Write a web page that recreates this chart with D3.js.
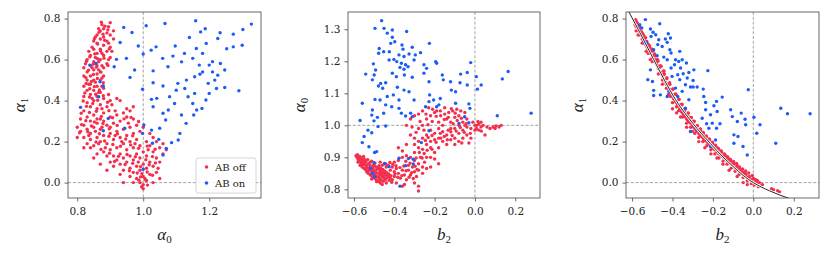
<!DOCTYPE html>
<html>
<head>
<meta charset="utf-8">
<script src="https://cdn.jsdelivr.net/npm/d3@7"></script>
<style>
body { margin: 0; background: #fff; }
svg { display: block; }
.tick text { font-family: "DejaVu Serif", serif; font-size: 10.5px; fill: #222; }
.lab { font-family: "Liberation Serif", "DejaVu Serif", serif; fill: #222; }
</style>
</head>
<body>
<svg id="fig" width="831" height="258"></svg>
<script>
// panel 1: alpha0 (x) vs alpha1 (y)
var offP1 = [[0.9,0.78],[0.88,0.75],[0.87,0.74],[0.89,0.73],[0.86,0.72],[0.88,0.71],[0.9,0.72],[0.87,0.7],[0.85,0.69],[0.89,0.69],[0.91,0.7],[0.86,0.68],[0.88,0.67],[0.9,0.66],[0.87,0.65],[0.85,0.65],[0.89,0.64],[0.86,0.63],[0.88,0.62],[0.84,0.62],[0.9,0.61],[0.87,0.6],[0.83,0.6],[0.85,0.59],[0.89,0.58],[0.86,0.57],[0.84,0.57],[0.88,0.56],[0.82,0.56],[0.85,0.55],[0.87,0.54],[0.83,0.54],[0.86,0.53],[0.84,0.52],[0.82,0.52],[0.88,0.52],[0.85,0.5],[0.83,0.5],[0.87,0.5],[0.84,0.48],[0.86,0.47],[0.82,0.47],[0.88,0.46],[0.85,0.45],[0.83,0.45],[0.87,0.44],[0.84,0.43],[0.86,0.42],[0.82,0.42],[0.88,0.41],[0.85,0.4],[0.9,0.4],[0.83,0.39],[0.87,0.38],[0.84,0.37],[0.89,0.37],[0.86,0.36],[0.82,0.35],[0.88,0.34],[0.85,0.33],[0.83,0.32],[0.87,0.31],[0.81,0.31],[0.84,0.3],[0.86,0.29],[0.82,0.28],[0.89,0.28],[0.85,0.27],[0.8,0.27],[0.83,0.26],[0.87,0.26],[0.9,0.27],
[0.91,0.74],[0.895,0.76],[0.875,0.77],[0.865,0.75],[0.855,0.71],[0.895,0.68],[0.905,0.64],[0.845,0.66],[0.835,0.64],[0.875,0.63],[0.855,0.61],[0.895,0.6],[0.865,0.59],[0.875,0.57],[0.845,0.56],[0.825,0.58],[0.865,0.55],[0.875,0.51],[0.855,0.49],[0.835,0.48],[0.865,0.44],[0.875,0.47],[0.845,0.41],[0.895,0.43],[0.905,0.38],[0.875,0.36],[0.915,0.35],[0.92,0.41],[0.93,0.4],
[0.92,0.33],[0.94,0.34],[0.96,0.35],[0.95,0.32],[0.93,0.3],[0.91,0.29],[0.97,0.31],[0.98,0.28],[0.96,0.27],[0.94,0.26],[0.92,0.25],[0.9,0.24],[0.88,0.23],[0.86,0.22],[0.84,0.21],[0.82,0.22],[0.8,0.22],[0.81,0.25],[0.83,0.19],[0.85,0.18],[0.87,0.2],[0.89,0.19],[0.91,0.21],[0.93,0.22],[0.95,0.23],[0.97,0.24],[0.99,0.25],[1.0,0.27],[0.98,0.21],[0.96,0.2],[0.94,0.19],[0.92,0.17],[0.9,0.16],[0.88,0.15],[0.86,0.14],[0.84,0.17],[0.95,0.16],[0.97,0.17],[0.99,0.18],[1.01,0.2],[1.03,0.22],[1.02,0.18],[1.0,0.15],[0.98,0.14],[0.96,0.13],[0.94,0.12],[0.92,0.11],[0.9,0.1],[0.89,0.13],[0.91,0.08],[0.93,0.09],[0.95,0.1],[0.97,0.11],[0.99,0.12],[1.01,0.13],[1.03,0.15],[1.05,0.17],[1.04,0.12],[1.02,0.1],[1.0,0.09],[0.98,0.08],[0.96,0.07],[0.94,0.06],[0.97,0.05],[0.99,0.06],[1.01,0.07],[1.03,0.08],[1.05,0.1],[1.06,0.14],[1.04,0.05],[1.02,0.04],[1.0,0.03],[0.98,0.02],[0.96,0.03],[0.99,0.0],[1.0,-0.01],[1.01,0.01],[1.0,-0.03],[0.995,-0.02],[1.005,0.02],[0.94,0.0],[0.97,0.0],[1.03,0.0],[1.05,0.02],[0.93,0.04],[0.95,0.36],[0.97,0.37],[0.9,0.32],[0.88,0.3],[0.86,0.31],[0.84,0.24],[0.82,0.17],[0.85,0.12],[0.87,0.09],[0.89,0.06],[0.93,0.14],[0.91,0.13],[1.02,0.24],[1.04,0.2],[1.06,0.19],[1.07,0.16],[0.975,0.19],[0.955,0.29],[0.935,0.2],[0.915,0.23],[0.875,0.27],[0.855,0.25],[0.835,0.23],[0.865,0.19],[0.885,0.17],[1.015,0.16],[0.985,0.1],[1.045,0.07],
[0.873,0.782],[0.884,0.763],[0.866,0.733],[0.893,0.745],[0.878,0.724],[0.852,0.702],[0.883,0.694],[0.862,0.676],[0.897,0.652],[0.871,0.642],[0.853,0.628],[0.881,0.607],[0.838,0.613],[0.862,0.604],[0.828,0.592],[0.848,0.577],[0.893,0.571],[0.858,0.562],[0.834,0.548],[0.872,0.539],[0.849,0.527],[0.826,0.512],[0.861,0.508],[0.843,0.493],[0.879,0.487],[0.827,0.483],[0.852,0.468],[0.838,0.458],[0.867,0.452],[0.823,0.437],[0.856,0.431],[0.879,0.424],[0.837,0.417],[0.862,0.402],[0.818,0.398],[0.847,0.386],[0.892,0.392],[0.828,0.372],[0.858,0.348],[0.837,0.342],[0.812,0.338],[0.873,0.323],[0.896,0.351],[0.907,0.316],[0.826,0.302],[0.852,0.296],[0.878,0.288],[0.813,0.283],[0.843,0.276],[0.897,0.263],[0.921,0.279],[0.942,0.311],[0.963,0.318],[0.986,0.298],[0.807,0.243],[0.832,0.248],[0.867,0.238],[0.896,0.226],[0.922,0.238],[0.947,0.213],[0.968,0.228],[0.883,0.203],[0.857,0.198],[0.908,0.186],[0.931,0.177],[0.962,0.184],[0.986,0.167],[1.012,0.178],[1.036,0.163],[0.872,0.162],[0.898,0.143],[0.925,0.128],[0.951,0.137],[0.976,0.126],[1.008,0.112],[1.028,0.127],[0.913,0.103],[0.945,0.088],[0.968,0.094],[0.992,0.078],[1.018,0.087],[1.037,0.096],[0.958,0.058],[0.982,0.047],[1.012,0.052],[1.028,0.036],[0.992,0.028],[1.008,0.012],[0.987,0.012],[1.013,-0.012],[0.996,0.043]];
var onP1 = [[0.941,0.757],[0.966,0.732],[1.009,0.765],[1.066,0.776],[1.159,0.789],[1.328,0.773],[0.93,0.683],[0.985,0.666],[1.039,0.662],[1.097,0.666],[1.14,0.708],[1.174,0.735],[1.188,0.75],[1.233,0.731],[1.273,0.724],[1.302,0.747],[1.3,0.67],[1.273,0.662],[1.253,0.653],[0.919,0.601],[0.949,0.606],[1.0,0.627],[1.024,0.646],[1.059,0.606],[1.09,0.617],[1.125,0.63],[1.15,0.606],[1.18,0.63],[1.2,0.573],[1.234,0.581],[1.226,0.703],[1.191,0.679],[1.161,0.654],[1.116,0.589],[1.075,0.565],[1.03,0.545],[0.974,0.549],[0.96,0.513],[0.912,0.565],[0.857,0.581],[0.838,0.573],[0.869,0.492],[0.879,0.471],[0.865,0.419],[0.81,0.367],[0.894,0.313],[0.879,0.253],[0.998,0.455],[1.03,0.487],[1.06,0.471],[1.08,0.419],[1.105,0.484],[1.131,0.5],[1.156,0.435],[1.172,0.529],[1.197,0.484],[1.217,0.5],[1.222,0.459],[1.247,0.464],[1.29,0.448],[1.247,0.549],[1.21,0.54],[1.226,0.524],[1.19,0.403],[1.178,0.362],[1.153,0.33],[1.13,0.289],[1.116,0.33],[1.095,0.386],[1.076,0.354],[1.06,0.338],[1.03,0.37],[1.025,0.406],[1.041,0.411],[1.068,0.305],[1.05,0.265],[1.025,0.256],[1.002,0.281],[0.998,0.24],[1.028,0.192],[1.047,0.211],[1.086,0.195],[1.111,0.24],[1.106,0.208],[1.06,0.135],[1.07,0.167],[1.0,0.065],[0.944,0.265],[1.136,0.419],[1.15,0.386],[1.162,0.354],[1.126,0.459],[1.1,0.451],[1.2,0.435],[1.17,0.573],[1.18,0.54],[1.21,0.59],[1.156,0.516]];

// panel 2: b2 (x) vs alpha0 (y)
var offP2 = [[-0.59,0.905],[-0.585,0.9],[-0.58,0.895],[-0.575,0.9],[-0.57,0.89],[-0.565,0.895],[-0.56,0.885],[-0.555,0.89],[-0.55,0.88],[-0.545,0.885],[-0.54,0.875],[-0.535,0.87],[-0.53,0.88],[-0.525,0.865],[-0.52,0.87],[-0.515,0.86],[-0.51,0.855],[-0.505,0.865],[-0.5,0.85],[-0.495,0.845],[-0.49,0.86],[-0.485,0.84],[-0.48,0.85],[-0.475,0.835],[-0.47,0.845],[-0.465,0.83],[-0.46,0.84],[-0.455,0.825],[-0.45,0.835],[-0.445,0.83],[-0.44,0.82],[-0.58,0.885],[-0.57,0.875],[-0.56,0.87],[-0.55,0.865],[-0.54,0.86],[-0.53,0.85],[-0.52,0.845],[-0.51,0.84],[-0.5,0.835],[-0.49,0.83],[-0.48,0.825],[-0.47,0.82],[-0.46,0.815],[-0.55,0.895],[-0.54,0.89],[-0.52,0.885],[-0.5,0.875],[-0.49,0.87],[-0.48,0.865],[-0.47,0.86],[-0.46,0.855],[-0.45,0.85],[-0.44,0.845],[-0.43,0.84],[-0.42,0.835],[-0.41,0.83],[-0.46,0.875],[-0.44,0.87],[-0.42,0.86],[-0.4,0.855],[-0.47,0.885],[-0.45,0.88],[-0.43,0.875],[-0.41,0.87],[-0.39,0.865],[-0.4,0.84],[-0.38,0.85],[-0.37,0.835],[-0.39,0.82],[-0.36,0.86],[-0.35,0.845],[-0.34,0.83],[-0.36,0.81],[-0.33,0.86],[-0.32,0.845],[-0.31,0.87],[-0.3,0.855],[-0.29,0.84],[-0.28,0.81],[-0.28,0.795],[-0.3,0.82],[-0.35,0.815],[-0.33,0.875],
[-0.4,0.885],[-0.38,0.89],[-0.36,0.9],[-0.34,0.905],[-0.32,0.9],[-0.3,0.89],[-0.28,0.88],[-0.27,0.9],[-0.26,0.87],[-0.25,0.885],[-0.24,0.9],[-0.3,0.915],[-0.28,0.93],[-0.26,0.925],[-0.24,0.94],[-0.22,0.93],[-0.2,0.915],[-0.22,0.95],[-0.2,0.955],[-0.18,0.96],[-0.26,0.96],[-0.24,0.97],[-0.22,0.985],[-0.2,0.975],[-0.18,0.99],[-0.16,0.98],[-0.14,0.97],[-0.12,0.98],[-0.1,0.99],[-0.08,0.975],[-0.06,0.985],[-0.04,0.995],[-0.02,0.99],[0.0,1.0],[-0.3,0.96],[-0.28,0.99],[-0.26,1.0],[-0.24,1.02],[-0.22,1.03],[-0.2,1.04],[-0.18,1.01],[-0.16,1.0],[-0.14,1.02],[-0.12,1.01],[-0.1,1.025],[-0.08,1.03],[-0.06,1.01],[-0.04,1.02],[-0.11,1.045],[-0.09,1.05],[-0.13,1.04],[-0.15,1.035],[-0.17,1.03],[-0.23,1.055],[-0.21,1.05],[-0.19,1.045],[-0.26,1.045],[-0.28,1.035],[-0.3,1.03],[-0.32,1.02],[-0.34,1.0],[-0.32,0.97],[-0.34,0.94],[-0.36,0.92],[-0.38,0.93],[-0.3,0.94],[-0.28,0.95],[-0.16,0.95],[-0.14,0.94],[-0.12,0.955],[-0.1,0.96],[-0.08,0.95],[-0.06,0.96],[-0.04,0.97],[-0.02,0.96],[-0.03,0.945],[-0.1,0.94],[-0.18,0.93],[-0.2,0.895],[-0.18,0.88],[-0.22,0.9],[-0.24,0.865],[-0.26,0.85],[-0.28,0.86],[-0.22,0.87],
[0.01,1.0],[0.02,1.005],[0.03,0.995],[0.04,1.0],[0.05,0.97],[0.02,0.985],[0.06,0.995],[0.09,0.995],[0.1,0.99],[0.12,0.995],[0.13,1.0],[0.0,0.985],[-0.01,1.01],[0.03,1.01],[-0.05,1.04],[-0.07,1.045],[-0.15,1.055],[-0.17,0.96],[-0.12,0.99],[-0.08,1.0],[-0.05,1.0],
[-0.583,0.908],[-0.572,0.903],[-0.562,0.898],[-0.553,0.903],[-0.578,0.892],[-0.566,0.882],[-0.547,0.878],[-0.532,0.893],[-0.523,0.878],[-0.512,0.888],[-0.507,0.874],[-0.496,0.882],[-0.528,0.858],[-0.517,0.848],[-0.503,0.857],[-0.492,0.852],[-0.486,0.868],[-0.476,0.874],[-0.468,0.866],[-0.457,0.862],[-0.447,0.857],[-0.462,0.848],[-0.451,0.842],[-0.473,0.853],[-0.438,0.852],[-0.428,0.848],[-0.417,0.843],[-0.437,0.836],[-0.426,0.828],[-0.413,0.822],[-0.478,0.838],[-0.488,0.824],[-0.472,0.828],[-0.503,0.842],[-0.513,0.832],[-0.543,0.867],[-0.557,0.876],[-0.537,0.855],[-0.442,0.879],[-0.422,0.884],[-0.408,0.878],[-0.392,0.874],[-0.397,0.848],[-0.383,0.838],[-0.372,0.868],[-0.363,0.843],[-0.353,0.873],[-0.342,0.858],[-0.327,0.838],[-0.314,0.852],[-0.306,0.834],[-0.297,0.872],[-0.287,0.862],[-0.343,0.888],[-0.322,0.882],[-0.292,0.898],[-0.276,0.915],[-0.262,0.898],[-0.252,0.912],[-0.237,0.922],[-0.213,0.925],[-0.246,0.953],[-0.232,0.962],[-0.213,0.968],[-0.193,0.947],[-0.172,0.975],[-0.152,0.965],[-0.133,0.985],[-0.113,0.968],[-0.093,0.982],[-0.073,0.993],[-0.053,0.978],[-0.108,1.005],[-0.088,1.015],[-0.067,1.022],[-0.132,1.025],[-0.152,1.018],[-0.172,1.045],[-0.192,1.028],[-0.212,1.012],[-0.233,1.002],[-0.253,0.985],[-0.272,1.012],[-0.292,0.978],[-0.312,0.995],[-0.243,1.035],[-0.098,1.038],[-0.117,1.052],[-0.043,1.005],[-0.023,0.975],[0.008,0.99],[0.015,1.012],[0.032,0.982],[0.075,0.99],[0.105,0.998],[-0.065,0.945],[-0.137,0.955]];
var onP2 = [[-0.463,1.327],[-0.496,1.303],[-0.451,1.303],[-0.435,1.288],[-0.41,1.298],[-0.339,1.293],[-0.41,1.275],[-0.398,1.261],[-0.418,1.256],[-0.226,1.256],[-0.362,1.251],[-0.357,1.238],[-0.475,1.24],[-0.453,1.23],[-0.478,1.225],[-0.425,1.23],[-0.311,1.244],[-0.27,1.227],[-0.296,1.22],[-0.327,1.223],[-0.352,1.215],[-0.377,1.22],[-0.402,1.206],[-0.426,1.204],[-0.388,1.199],[-0.365,1.194],[-0.344,1.189],[-0.372,1.181],[-0.352,1.175],[-0.332,1.183],[-0.302,1.204],[-0.253,1.189],[-0.24,1.178],[-0.195,1.199],[-0.19,1.194],[-0.504,1.192],[-0.493,1.173],[-0.542,1.16],[-0.5,1.157],[-0.41,1.163],[-0.39,1.152],[-0.35,1.157],[-0.311,1.15],[-0.253,1.163],[-0.162,1.157],[-0.157,1.142],[-0.021,1.196],[-0.071,1.16],[-0.038,1.165],[0.007,1.152],[0.031,1.126],[0.012,1.113],[0.165,1.168],[0.136,1.145],[-0.509,1.142],[-0.468,1.131],[-0.443,1.133],[-0.479,1.123],[-0.458,1.116],[-0.385,1.119],[-0.352,1.11],[-0.327,1.105],[-0.228,1.136],[-0.121,1.136],[-0.074,1.133],[-0.038,1.126],[-0.096,1.105],[-0.117,1.11],[-0.225,1.095],[-0.205,1.079],[-0.172,1.084],[-0.179,1.064],[-0.228,1.074],[-0.245,1.058],[-0.19,1.058],[-0.405,1.095],[-0.435,1.09],[-0.443,1.064],[-0.496,1.081],[-0.471,1.079],[-0.377,1.079],[-0.302,1.079],[-0.413,1.058],[-0.559,1.069],[-0.509,1.048],[-0.512,1.032],[-0.484,1.025],[-0.453,1.038],[-0.377,1.053],[-0.365,1.038],[-0.344,1.029],[-0.319,1.038],[-0.311,1.027],[-0.57,1.015],[-0.501,1.014],[-0.481,0.996],[-0.443,0.998],[-0.531,0.985],[-0.512,0.977],[-0.55,0.965],[-0.559,0.946],[-0.526,0.933],[-0.498,0.915],[-0.488,0.918],[-0.096,1.069],[-0.03,1.067],[-0.025,1.053],[-0.051,1.027],[-0.03,1.008],[0.111,1.03],[0.279,1.038],[-0.079,1.006],[-0.266,0.946],[-0.377,0.897],[-0.33,0.896],[-0.306,0.894],[-0.306,0.879],[-0.344,0.874],[-0.426,0.871],[-0.448,0.881],[-0.501,0.883],[-0.517,0.866],[-0.509,0.85],[-0.498,0.84],[-0.372,0.81],[-0.228,0.983]];

// panel 3: b2 (x) vs alpha1 (y)
var offP3 = [[-0.59,0.79],[-0.585,0.77],[-0.58,0.76],[-0.575,0.78],[-0.57,0.74],[-0.565,0.75],[-0.56,0.72],[-0.555,0.73],[-0.55,0.7],[-0.545,0.71],[-0.54,0.68],[-0.535,0.69],[-0.53,0.67],[-0.525,0.66],[-0.52,0.65],[-0.515,0.66],[-0.51,0.63],[-0.505,0.64],[-0.5,0.61],[-0.495,0.62],[-0.49,0.6],[-0.485,0.59],[-0.48,0.58],[-0.475,0.57],[-0.47,0.555],[-0.465,0.56],[-0.46,0.54],[-0.455,0.53],[-0.45,0.52],[-0.445,0.525],[-0.44,0.5],[-0.435,0.49],[-0.43,0.48],[-0.425,0.475],[-0.42,0.46],[-0.415,0.455],[-0.41,0.44],[-0.405,0.43],[-0.4,0.425],[-0.395,0.41],[-0.39,0.405],[-0.385,0.395],[-0.38,0.39],[-0.375,0.38],[-0.37,0.375],[-0.365,0.36],[-0.36,0.355],[-0.355,0.345],[-0.35,0.34],[-0.345,0.33],[-0.34,0.325],[-0.335,0.32],[-0.33,0.31],[-0.325,0.305],[-0.32,0.3],[-0.315,0.295],[-0.31,0.29],[-0.3,0.28],[-0.295,0.27],[-0.29,0.265],[-0.285,0.26],[-0.28,0.25],[-0.27,0.24],[-0.265,0.235],[-0.26,0.23],[-0.25,0.22],[-0.245,0.21],[-0.24,0.205],[-0.23,0.2],[-0.225,0.195],[-0.22,0.19],[-0.21,0.18],[-0.2,0.17],[-0.195,0.165],[-0.19,0.16],[-0.18,0.15],[-0.17,0.14],[-0.16,0.135],[-0.15,0.125],[-0.14,0.115],[-0.13,0.105],[-0.12,0.1],[-0.11,0.09],[-0.1,0.08],[-0.09,0.07],[-0.08,0.065],[-0.07,0.055],[-0.06,0.045],[-0.05,0.04],[-0.04,0.03],[-0.03,0.025],[-0.02,0.015],[-0.01,0.01],[0.0,0.0],[0.01,0.0],[0.02,-0.01],[0.04,-0.015],[0.09,-0.03],[0.1,-0.035],[0.12,-0.04],[0.13,-0.045],
[-0.58,0.74],[-0.57,0.72],[-0.56,0.74],[-0.55,0.68],[-0.54,0.7],[-0.53,0.64],[-0.52,0.63],[-0.51,0.6],[-0.5,0.59],[-0.49,0.62],[-0.48,0.6],[-0.47,0.53],[-0.46,0.57],[-0.45,0.5],[-0.44,0.53],[-0.43,0.46],[-0.42,0.48],[-0.41,0.42],[-0.4,0.39],[-0.39,0.43],[-0.38,0.37],[-0.37,0.35],[-0.36,0.38],[-0.35,0.32],[-0.34,0.35],[-0.33,0.29],[-0.32,0.32],[-0.31,0.27],[-0.3,0.3],[-0.29,0.24],[-0.28,0.275],[-0.27,0.22],[-0.26,0.25],[-0.25,0.2],[-0.24,0.225],[-0.23,0.18],[-0.22,0.21],[-0.21,0.16],[-0.2,0.19],[-0.19,0.14],[-0.18,0.17],[-0.17,0.12],[-0.16,0.155],[-0.15,0.105],[-0.14,0.135],[-0.13,0.09],[-0.12,0.115],[-0.11,0.07],[-0.1,0.095],[-0.09,0.055],[-0.08,0.085],[-0.07,0.04],[-0.06,0.06],[-0.05,0.025],[-0.04,0.045],[-0.03,0.01],[-0.02,0.03],[-0.01,-0.005],[0.0,0.02],[0.01,0.015],[0.02,0.01],[0.03,0.0],[-0.005,0.035],
[-0.45,0.48],[-0.42,0.43],[-0.4,0.36],[-0.38,0.34],[-0.36,0.32],[-0.33,0.27],[-0.3,0.25],[-0.27,0.2],[-0.24,0.17],[-0.21,0.14],[-0.18,0.12],[-0.15,0.09],[-0.12,0.06],[-0.08,0.03],[-0.05,0.0],[-0.03,-0.01],
[-0.582,0.795],[-0.568,0.765],[-0.553,0.735],[-0.542,0.718],[-0.527,0.688],[-0.513,0.667],[-0.498,0.641],[-0.486,0.618],[-0.472,0.592],[-0.457,0.568],[-0.443,0.545],[-0.428,0.512],[-0.414,0.487],[-0.398,0.455],[-0.384,0.432],[-0.368,0.405],[-0.353,0.383],[-0.338,0.36],[-0.322,0.338],[-0.307,0.318],[-0.293,0.297],[-0.277,0.278],[-0.262,0.262],[-0.247,0.24],[-0.232,0.225],[-0.217,0.208],[-0.202,0.195],[-0.187,0.18],[-0.172,0.162],[-0.157,0.148],[-0.142,0.132],[-0.127,0.118],[-0.112,0.105],[-0.097,0.092],[-0.082,0.078],[-0.067,0.065],[-0.052,0.052],[-0.037,0.04],[-0.022,0.028],[-0.008,0.015],
[-0.577,0.783],[-0.562,0.76],[-0.548,0.727],[-0.533,0.707],[-0.518,0.673],[-0.503,0.652],[-0.488,0.627],[-0.473,0.6],[-0.458,0.567],[-0.443,0.543],[-0.428,0.507],[-0.413,0.48],[-0.398,0.457],[-0.383,0.43],[-0.368,0.407],[-0.353,0.38],[-0.338,0.358],[-0.323,0.34],[-0.308,0.317],[-0.293,0.3],[-0.278,0.277],[-0.263,0.26],[-0.248,0.245],[-0.233,0.227],[-0.218,0.213],[-0.203,0.197],[-0.188,0.183],[-0.173,0.167],[-0.158,0.153],[-0.143,0.14],[-0.128,0.127],[-0.113,0.113],[-0.098,0.103],[-0.083,0.093],[-0.068,0.077],[-0.053,0.067],[-0.038,0.057],[-0.023,0.047],[0.005,-0.012],[0.025,-0.02],[0.015,-0.005],[0.045,-0.01]];
var onP3 = [[-0.534,0.795],[-0.562,0.77],[-0.552,0.754],[-0.463,0.775],[-0.509,0.749],[-0.496,0.733],[-0.506,0.713],[-0.483,0.721],[-0.468,0.697],[-0.542,0.689],[-0.526,0.681],[-0.435,0.7],[-0.421,0.726],[-0.41,0.705],[-0.426,0.684],[-0.451,0.664],[-0.473,0.673],[-0.493,0.648],[-0.413,0.648],[-0.407,0.632],[-0.364,0.64],[-0.476,0.619],[-0.443,0.612],[-0.426,0.599],[-0.385,0.599],[-0.369,0.591],[-0.352,0.599],[-0.331,0.583],[-0.39,0.575],[-0.407,0.559],[-0.36,0.559],[-0.294,0.55],[-0.225,0.546],[-0.319,0.537],[-0.347,0.531],[-0.374,0.526],[-0.402,0.518],[-0.327,0.51],[-0.364,0.502],[-0.298,0.498],[-0.336,0.477],[-0.298,0.466],[-0.278,0.466],[-0.311,0.466],[-0.248,0.456],[-0.385,0.461],[-0.352,0.445],[-0.493,0.45],[-0.493,0.425],[-0.46,0.428],[-0.418,0.445],[-0.426,0.42],[-0.374,0.42],[-0.319,0.404],[-0.245,0.42],[-0.154,0.417],[-0.182,0.396],[-0.195,0.375],[-0.236,0.391],[-0.236,0.355],[-0.212,0.331],[-0.179,0.347],[-0.112,0.355],[-0.336,0.363],[-0.253,0.314],[-0.231,0.287],[-0.203,0.29],[-0.22,0.265],[-0.182,0.265],[-0.165,0.287],[-0.311,0.249],[-0.278,0.257],[-0.104,0.322],[-0.06,0.339],[-0.079,0.298],[-0.041,0.309],[-0.038,0.282],[0.003,0.319],[0.033,0.282],[-0.025,0.453],[-0.096,0.233],[-0.076,0.225],[-0.096,0.192],[-0.051,0.176],[-0.03,0.135],[0.017,0.241],[-0.187,0.208],[-0.212,0.176],[0.111,0.192],[0.136,0.363],[0.169,0.336],[0.281,0.336],[-0.509,0.55],[-0.522,0.502],[-0.499,0.493]];

// black reference curve in panel 3 (b2, alpha1)
var curveB2 = [-0.617, -0.55, -0.493, -0.44, -0.385, -0.3, -0.212, -0.15, -0.096, -0.05, 0, 0.08, 0.177];
var curveA1 = [0.835, 0.71, 0.60, 0.50, 0.405, 0.29, 0.19, 0.125, 0.075, 0.035, 0.0, -0.04, -0.077];

var ticksA0x = [0.8, 1.0, 1.2];
var ticksA1 = [0.0, 0.2, 0.4, 0.6, 0.8];
var ticksB2 = [-0.6, -0.4, -0.2, 0.0, 0.2];
var ticksA0y = [0.8, 0.9, 1.0, 1.1, 1.2, 1.3];
var legendNames = ["AB off", "AB on"];

var RED = "#f2304e", BLUE = "#1a5cf7";
var svg = d3.select("#fig");
var plotTop = 12, plotBottom = 198;

var panels = [
  { left: 68, right: 261, xd: [0.772, 1.357], yd: [-0.075, 0.832], xt: ticksA0x, yt: ticksA1,
    off: offP1, on: onP1, vx: 1.0, hy: 0.0, xl: ["α", "0"], yl: ["α", "1"], legend: true },
  { left: 348, right: 540, xd: [-0.63, 0.323], yd: [0.773, 1.354], xt: ticksB2, yt: ticksA0y,
    off: offP2, on: onP2, vx: 0.0, hy: 1.0, xl: ["b", "2"], yl: ["α", "0"] },
  { left: 626, right: 819, xd: [-0.63, 0.325], yd: [-0.075, 0.832], xt: ticksB2, yt: ticksA1,
    off: offP3, on: onP3, vx: 0.0, hy: 0.0, xl: ["b", "2"], yl: ["α", "1"], curve: true }
];

panels.forEach(function (p, i) {
  var x = d3.scaleLinear().domain(p.xd).range([p.left, p.right]);
  var y = d3.scaleLinear().domain(p.yd).range([plotBottom, plotTop]);
  var g = svg.append("g");

  g.append("clipPath").attr("id", "clip" + i)
    .append("rect").attr("x", p.left).attr("y", plotTop)
    .attr("width", p.right - p.left).attr("height", plotBottom - plotTop);

  var plot = g.append("g").attr("clip-path", "url(#clip" + i + ")");

  // dashed reference lines
  plot.append("line")
    .attr("x1", x(p.vx)).attr("x2", x(p.vx)).attr("y1", plotTop).attr("y2", plotBottom)
    .attr("stroke", "#8a8a8a").attr("stroke-width", 0.8).attr("stroke-dasharray", "3,1.8");
  plot.append("line")
    .attr("x1", p.left).attr("x2", p.right).attr("y1", y(p.hy)).attr("y2", y(p.hy))
    .attr("stroke", "#8a8a8a").attr("stroke-width", 0.8).attr("stroke-dasharray", "3,1.8");

  plot.selectAll(".off").data(p.off).enter().append("circle")
    .attr("cx", function (d) { return x(d[0]); })
    .attr("cy", function (d) { return y(d[1]); })
    .attr("r", 1.7).attr("fill", RED);

  plot.selectAll(".on").data(p.on).enter().append("circle")
    .attr("cx", function (d) { return x(d[0]); })
    .attr("cy", function (d) { return y(d[1]); })
    .attr("r", 1.7).attr("fill", BLUE);

  if (p.curve) {
    var pts = curveB2.map(function (b, k) { return [b, curveA1[k]]; });
    var line = d3.line()
      .x(function (d) { return x(d[0]); })
      .y(function (d) { return y(d[1]); })
      .curve(d3.curveMonotoneX);
    plot.append("path").attr("d", line(pts)).attr("fill", "none")
      .attr("stroke", "#fff").attr("stroke-width", 2.4);
    plot.append("path").attr("d", line(pts)).attr("fill", "none")
      .attr("stroke", "#111").attr("stroke-width", 0.9);
  }

  // frame
  g.append("rect").attr("x", p.left).attr("y", plotTop)
    .attr("width", p.right - p.left).attr("height", plotBottom - plotTop)
    .attr("fill", "none").attr("stroke", "#444").attr("stroke-width", 0.8);

  var fmt = d3.format(".1f");
  var ax = g.append("g").attr("transform", "translate(0," + plotBottom + ")")
    .call(d3.axisBottom(x).tickValues(p.xt).tickFormat(fmt).tickSize(3.5).tickPadding(6));
  var ay = g.append("g").attr("transform", "translate(" + p.left + ",0)")
    .call(d3.axisLeft(y).tickValues(p.yt).tickFormat(fmt).tickSize(3.5).tickPadding(4));
  [ax, ay].forEach(function (a) {
    a.select(".domain").remove();
    a.selectAll(".tick line").attr("stroke", "#444").attr("stroke-width", 0.8);
  });

  // axis labels
  var cx = (p.left + p.right) / 2;
  var tx = g.append("text").attr("class", "lab").attr("x", cx).attr("y", 240)
    .attr("text-anchor", "middle");
  tx.append("tspan").attr("font-style", "italic").attr("font-size", "17px").text(p.xl[0]);
  tx.append("tspan").attr("font-size", "11px").attr("dy", 3).text(p.xl[1]);

  var ty = g.append("text").attr("class", "lab")
    .attr("transform", "translate(" + (p.left - 43) + "," + ((plotTop + plotBottom) / 2) + ") rotate(-90)")
    .attr("text-anchor", "middle");
  ty.append("tspan").attr("font-style", "italic").attr("font-size", "17px").text(p.yl[0]);
  ty.append("tspan").attr("font-size", "11px").attr("dy", 3).text(p.yl[1]);

  if (p.legend) {
    var lg = g.append("g").attr("transform", "translate(196,158)");
    lg.append("rect").attr("width", 60).attr("height", 35).attr("rx", 2)
      .attr("fill", "#fff").attr("fill-opacity", 0.85)
      .attr("stroke", "#cccccc").attr("stroke-width", 0.8);
    legendNames.forEach(function (n, k) {
      lg.append("circle").attr("cx", 10.5).attr("cy", 9 + k * 16)
        .attr("r", 1.8).attr("fill", k === 0 ? RED : BLUE);
      lg.append("text").attr("x", 19).attr("y", 12.5 + k * 16)
        .attr("font-family", "DejaVu Serif, serif").attr("font-size", "10px")
        .attr("fill", "#222").text(n);
    });
  }
});
</script>
</body>
</html>
